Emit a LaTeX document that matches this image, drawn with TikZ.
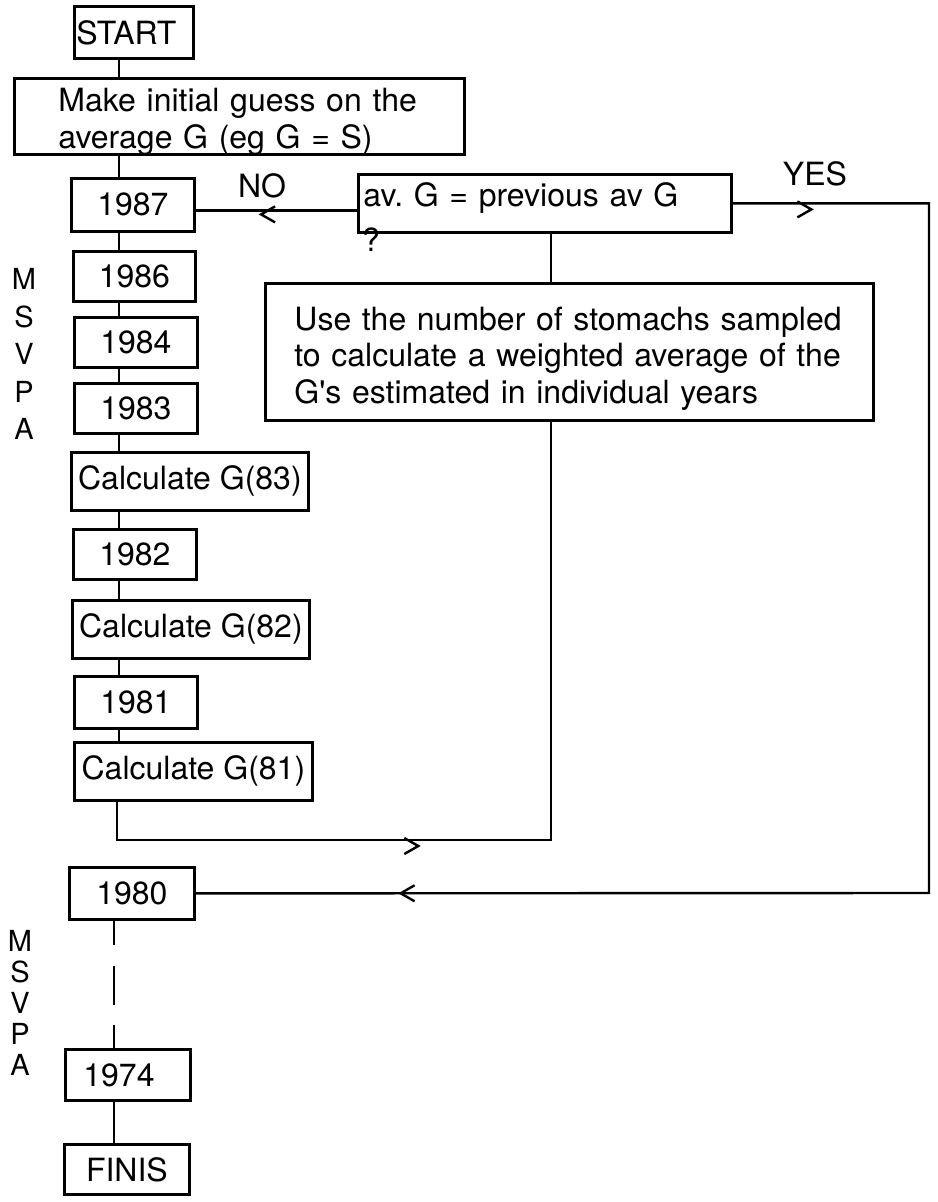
\documentclass[tikz,border=0pt]{standalone}
\usepackage{fontspec}
\setmainfont{TeX Gyre Heros}
\usetikzlibrary{positioning,arrows.meta,decorations.markings}
\tikzset{
  box/.style={draw, line width=1.4pt, inner sep=0pt, anchor=north west,
              font=\fontsize{16}{18.5}\selectfont},
  sz/.style 2 args={minimum width=#1, minimum height=#2},
  para/.style n args={4}{align=left, text width=#1, inner xsep=#2,
              text height=#3, text depth=#4},
  lbl/.style={font=\fontsize{16}{18.5}\selectfont, inner sep=0pt},
  side/.style={font=\fontsize{14.5}{18.75}\selectfont, align=center,
              inner sep=0pt, anchor=north},
  link/.style={line width=1.2pt},
  midtip/.style 2 args={postaction={decorate, decoration={markings,
      mark=at position #1 with {\pgftransformyshift{#2}%
        \arrow{Straight Barb[length=7pt, width=8pt]}}}}},
}
\begin{document}
\begin{tikzpicture}[x=0.5pt, y=-0.5pt]
  \useasboundingbox (0,0) rectangle (937,1202);
  % main column, one year after the other
  \node[box, sz={59.5pt}{26pt}, align=left, text width=57.5pt, inner xsep=1pt] (start) at (73,5) {START};
  \node[box, sz={225pt}{38pt}, para={181pt}{22pt}{16.5pt}{21.5pt}] (make) at (13,77)
       {Make initial guess on the\\average G (eg G = S)};
  \node[box, sz={61.5pt}{26.5pt}] (y1987) at (70,177) {1987};
  \node[box, sz={61pt}{25pt}] (y1986) at (72,250) {1986};
  \node[box, sz={61.5pt}{25pt}] (y1984) at (73,316) {1984};
  \node[box, sz={61.5pt}{25pt}] (y1983) at (73,382) {1983};
  \node[box, sz={118.5pt}{29pt}] (c83) at (70,451) {Calculate G(83)};
  \node[box, sz={61.5pt}{25pt}] (y1982) at (72,528) {1982};
  \node[box, sz={118.5pt}{29pt}] (c82) at (71,599) {Calculate G(82)};
  \node[box, sz={61.5pt}{26pt}] (y1981) at (73,675) {1981};
  \node[box, sz={119pt}{29pt}] (c81) at (73,741) {Calculate G(81)};
  \node[box, sz={62.5pt}{26pt}] (y1980) at (68,866) {1980};
  \node[box, sz={62.5pt}{25.5pt}, align=left, text width=44.5pt, inner xsep=9pt] (y1974) at (64,1048) {1974};
  \node[box, sz={62.5pt}{25pt}] (finis) at (63,1143) {FINIS};
  % test and weighted average
  \node[box, sz={186.5pt}{29pt}, para={181.5pt}{2.5pt}{16pt}{13pt}] (dec) at (357,173)
       {av.\ G = previous av G};
  \node[lbl] (decq) at (371,240) {?};
  \node[box, sz={304pt}{68.5pt}, para={275pt}{14.5pt}{23.5pt}{45pt},
        font=\fontsize{16}{18.25}\selectfont] (use) at (264,282)
       {Use the number of stomachs sampled\\to calculate a weighted average of the\\G\textquotesingle s estimated in individual years};
  \node[lbl] (no) at (262,186) {NO};
  \node[lbl] (yes) at (815,174) {YES};
  \node[side] (msvpa1) at (24,268) {M\\S\\V\\P\\A};
  \node[side, font=\fontsize{14.5}{15.5}\selectfont] (msvpa2) at (20,930) {M\\S\\V\\P\\A};
  % routing points
  \coordinate (col) at (119,0);
  \coordinate (low) at (114,0);
  \coordinate (loopx) at (117,0);
  \coordinate (spine) at (551,0);
  \coordinate (loopc) at (551,840);
  \coordinate (rail) at (929,893);
  \coordinate (noy) at ([yshift=-3.5pt]dec.west);
  \draw[link] (start.south -| col) -- (make.north -| col);
  \draw[link] (make.south -| col) -- (y1987.north -| col);
  \draw[link] (y1987.south -| col) -- (y1986.north -| col);
  \draw[link] (y1986.south -| col) -- (y1984.north -| col);
  \draw[link] (y1984.south -| col) -- (y1983.north -| col);
  \draw[link] (y1983.south -| col) -- (c83.north -| col);
  \draw[link] (c83.south -| col) -- (y1982.north -| col);
  \draw[link] (y1982.south -| col) -- (c82.north -| col);
  \draw[link] (c82.south -| col) -- (y1981.north -| col);
  \draw[link] (y1981.south -| col) -- (c81.north -| col);
  \draw[link, midtip={.384}{-3pt}] (c81.south -| loopx) |- (loopc) -- (use.south -| spine);
  \draw[link] (dec.south -| spine) -- (use.north -| spine);
  \draw[link, midtip={.61}{2pt}] (noy) -- (noy -| y1987.east);
  \draw[link, midtip={.05}{-3pt}, midtip={.875}{0pt}] (dec.east) -| (rail) -- (y1980.east);
  \draw[link, dash pattern=on 12pt off 10.5pt on 19.5pt off 10pt on 20pt] (y1980.south -| low) -- (y1974.north -| low);
  \draw[link] (y1974.south -| low) -- (finis.north -| low);
\end{tikzpicture}
\end{document}
